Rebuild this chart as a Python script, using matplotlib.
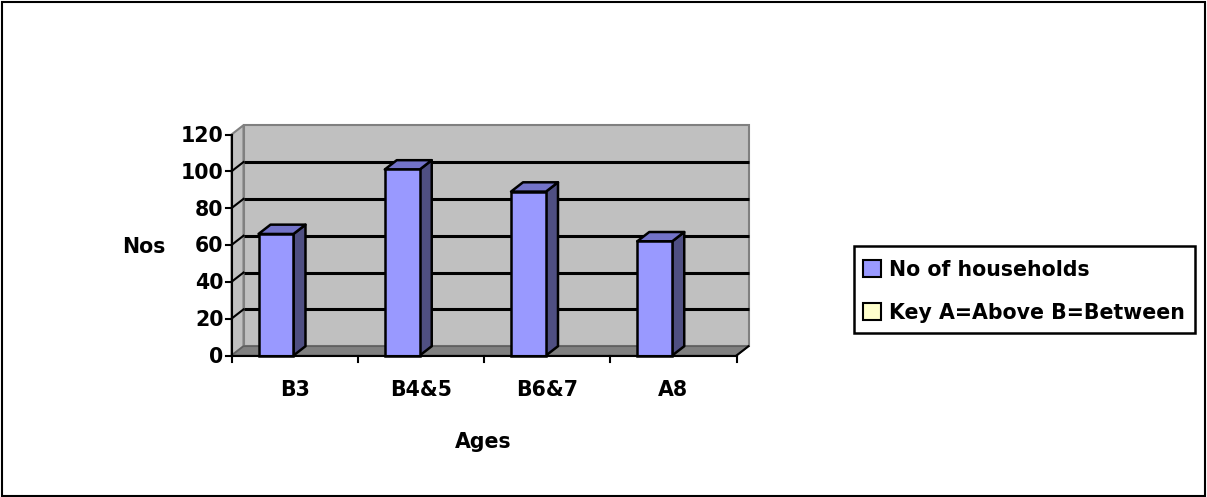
import matplotlib
matplotlib.use("Agg")
import matplotlib.pyplot as plt
from matplotlib.patches import Polygon, Rectangle

categories = ["B3", "B4&5", "B6&7", "A8"]
households = [66, 101, 89, 62]
yticks = [0, 20, 40, 60, 80, 100, 120]
series_name = "No of households"
key_name = "Key A=Above B=Between"
ylabel = "Nos"
xlabel = "Ages"

W, H, DPI = 1207, 497, 100
plt.rcParams['font.family'] = ['DejaVu Sans']
FS = 14.8

fig = plt.figure(figsize=(W / DPI, H / DPI), dpi=DPI)
# plot area (front plane) in pixels
left_px, right_px = 231.5, 736.5
top_px, bottom_px = 134.5, 355.5
ax = fig.add_axes([left_px / W, 1 - bottom_px / H,
                   (right_px - left_px) / W, (bottom_px - top_px) / H])
ymax = 120
ax.set_xlim(-0.5, len(categories) - 0.5)
ax.set_ylim(0, ymax)
ax.axis('off')

# depth offset in pixels -> data units
depth_dx_px, depth_dy_px = 12.0, 9.3
xunit_px = (right_px - left_px) / len(categories)
yunit_px = (bottom_px - top_px) / ymax
ddx = depth_dx_px / xunit_px
ddy = depth_dy_px / yunit_px

x0, x1 = -0.5, len(categories) - 0.5
wall_c = '#C0C0C0'
edge_gray = '#808080'

# back wall
ax.add_patch(Polygon([(x0 + ddx, ddy), (x1 + ddx, ddy), (x1 + ddx, ymax + ddy), (x0 + ddx, ymax + ddy)],
                     closed=True, facecolor=wall_c, edgecolor=edge_gray, lw=1.5, clip_on=False, zorder=1))
# left side wall
ax.add_patch(Polygon([(x0, 0), (x0 + ddx, ddy), (x0 + ddx, ymax + ddy), (x0, ymax)],
                     closed=True, facecolor=wall_c, edgecolor=edge_gray, lw=1.5, clip_on=False, zorder=1))
# gridlines on back wall + left wall
for t in yticks[1:-1]:
    ax.plot([x0 + ddx, x1 + ddx], [t + ddy, t + ddy], color='black', lw=2.2, clip_on=False, zorder=2,
            solid_capstyle='butt')
    ax.plot([x0, x0 + ddx], [t, t + ddy], color='black', lw=1.5, clip_on=False, zorder=2)
# floor
ax.add_patch(Polygon([(x0, 0), (x1, 0), (x1 + ddx, ddy), (x0 + ddx, ddy)],
                     closed=True, facecolor='#808080', edgecolor='#606060', lw=1.2, clip_on=False, zorder=3))

# bars
bar_left_off = 0.214
bar_w = 0.277
front_c, side_c, top_c = '#9999FF', '#4F4F82', '#7373C8'
for i, v in enumerate(households):
    xl = i - 0.5 + bar_left_off
    xr = xl + bar_w
    ax.add_patch(Polygon([(xr, 0), (xr + ddx, ddy), (xr + ddx, v + ddy), (xr, v)], closed=True,
                         facecolor=side_c, edgecolor='black', lw=1.8, clip_on=False, zorder=4,
                         joinstyle='round'))
    ax.add_patch(Polygon([(xl, v), (xr, v), (xr + ddx, v + ddy), (xl + ddx, v + ddy)], closed=True,
                         facecolor=top_c, edgecolor='black', lw=1.8, clip_on=False, zorder=4,
                         joinstyle='round'))
ax.bar([i - 0.5 + bar_left_off for i in range(len(categories))], households, width=bar_w, align='edge',
       color=front_c, edgecolor='black', lw=1.8, zorder=5, clip_on=False)

# axes lines
ax.plot([x0, x0], [0, ymax], color='black', lw=1.5, clip_on=False, zorder=6)
ax.plot([x0, x1], [0, 0], color='black', lw=1.5, clip_on=False, zorder=6)
ax.plot([x1, x1 + ddx], [0, ddy], color='black', lw=1.5, clip_on=False, zorder=6)
tick_len_x = 6 / xunit_px
for t in yticks:
    ax.plot([x0 - tick_len_x, x0], [t, t], color='black', lw=1.5, clip_on=False, zorder=6)
    ax.text(x0 - 8 / xunit_px, t - 7.5 / yunit_px, str(t), ha='right', va='baseline',
            fontsize=FS, fontweight='bold')
tick_len_y = 6 / yunit_px
for k in range(len(categories) + 1):
    xb = x0 + k
    ax.plot([xb, xb], [0, -tick_len_y], color='black', lw=1.5, clip_on=False, zorder=6)
for i, c in enumerate(categories):
    ax.text(i, -41 / yunit_px, c, ha='center', va='baseline', fontsize=FS, fontweight='bold')

fig.text(144 / W, 1 - 253.5 / H, ylabel, ha='center', va='baseline', fontsize=FS, fontweight='bold')
fig.text(483 / W, 1 - 448 / H, xlabel, ha='center', va='baseline', fontsize=FS, fontweight='bold')

# legend (drawn in figure pixel coordinates)
def fx(px):
    return px / W

def fy(py):
    return 1 - py / H

box_l, box_t, box_r, box_b = 853.5, 245.5, 1194.5, 333.0
fig.patches.append(Rectangle((fx(box_l), fy(box_b)), (box_r - box_l) / W, (box_b - box_t) / H,
                             transform=fig.transFigure, facecolor='white', edgecolor='black', lw=1.8))
entries = [(series_name, front_c), (key_name, '#FFFFCC')]
row_centers = [268.5, 311.3]
sq = 17.5
for (label, col), yc in zip(entries, row_centers):
    fig.patches.append(Rectangle((fx(863.0), fy(yc + sq / 2)), sq / W, sq / H, transform=fig.transFigure,
                                 facecolor=col, edgecolor='black', lw=1.5))
    fig.text(fx(889.0), fy(yc + 7.5), label, ha='left', va='baseline', fontsize=FS, fontweight='bold')

fig.patches.append(Rectangle((1.5 / W, 1.5 / H), (W - 3.5) / W, (H - 3.5) / H, transform=fig.transFigure,
                             fill=False, edgecolor='black', lw=1.5))

fig.savefig('out.png', dpi=DPI, facecolor='white')
